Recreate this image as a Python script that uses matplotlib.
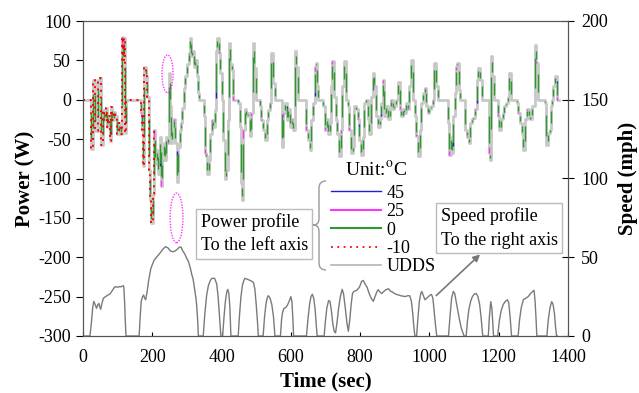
import numpy as np
import matplotlib.pyplot as plt
from matplotlib.lines import Line2D
from matplotlib.path import Path
from matplotlib.patches import PathPatch, Ellipse

plt.rcParams['font.family'] = ['Liberation Serif', 'DejaVu Serif']
plt.rcParams['mathtext.fontset'] = 'stix'
plt.rcParams['axes.unicode_minus'] = False

# power profile (W), step values: (time s, power W)
power_pts = [
    (0, 0), (22, -62), (30, 25), (36, -40), (42, 25), (48, 28), (53, -58), (57, -13), (61, -26),
    (65, -11), (69, -34), (73, -20), (77, -52), (81, -9), (85, -26), (89, -15), (93, -20), (98, -44),
    (104, -30), (109, -44), (113, 80), (116, 50), (118, 78), (120, -42), (123, 0),
    (166, -17), (169, -38), (173, -84), (177, 42), (182, 30), (186, 3), (190, -89), (194, -127),
    (197, -157), (201, -120), (205, -38), (209, -81), (213, -64), (217, -94), (221, -47), (225, -110),
    (229, -76), (233, -55), (237, -76), (241, -47), (245, -55), (249, 34), (252, -8), (255, -55),
    (258, -38), (262, -25), (266, -55), (270, -105), (275, -60), (279, -38), (283, -30), (287, -10),
    (291, 15), (295, 30), (300, 45), (305, 60), (308, 78), (312, 55), (316, 62), (320, 42), (324, 50),
    (328, 30), (332, 8), (336, 0),
    (349, -21), (352, -68), (355, -72), (359, -94), (363, -77), (367, -43), (372, -26), (376, -34),
    (381, -13), (385, 62), (388, 78), (392, 60), (396, 34), (400, 0), (405, -51), (409, -101),
    (414, -89), (418, -26), (421, 72), (425, 45), (429, 38), (433, 0), (448, -4), (452, -34),
    (455, -106), (459, -127), (463, -38), (467, -12), (471, -21), (476, -17), (481, -46), (486, -17),
    (490, 72), (495, 40), (500, 0), (511, -8), (515, -26), (520, -38), (525, -51), (530, -26),
    (535, -13), (540, -4), (544, 59), (549, 21), (553, 0), (573, -60), (578, -17), (583, -4),
    (588, -26), (593, -12), (598, -34), (602, -25), (607, -38), (611, 62), (616, 42), (621, 0),
    (645, -38), (650, -51), (654, -64), (659, -26), (664, -4), (669, 42), (672, 47), (675, 17), (678, 0),
    (694, -8), (698, -38), (703, -25), (707, -43), (712, -30), (716, 17), (720, 49), (725, 4),
    (730, -26), (734, -43), (739, -72), (744, -38), (749, 17), (754, 49), (758, 0), (764, -8),
    (768, -38), (773, -68), (778, -60), (783, -8), (788, -12), (793, -25), (798, -51), (803, -70),
    (807, -47), (812, -4), (817, 0), (822, -25), (827, -43), (832, 4), (836, 34), (841, 17),
    (846, -21), (851, -34), (856, -25), (860, -4), (865, 25), (870, -21), (875, -8), (880, -25),
    (885, -12), (889, 0), (894, -12), (899, -8), (904, 0), (909, 23), (914, -12), (918, -21),
    (923, -12), (928, -17), (933, -4), (937, -12), (942, 17), (947, 51), (952, 0), (957, -21),
    (962, -46), (967, -72), (972, -38), (976, -4), (981, 8), (986, 15), (991, -8), (996, -17),
    (1000, -12), (1005, -8), (1010, 0), (1014, 47), (1019, 17), (1024, 0),
    (1053, -30), (1057, -70), (1061, -47), (1065, -68), (1069, -21), (1073, 8), (1077, 42), (1081, 47),
    (1085, 13), (1089, 0), (1104, -38), (1109, -47), (1113, -55), (1117, -30), (1122, -25), (1127, -23),
    (1132, -12), (1137, 25), (1141, 40), (1147, 25), (1153, 0), (1172, -68), (1175, -76), (1179, 55),
    (1182, 30), (1186, 0), (1197, -21), (1202, -38), (1206, -25), (1211, -17), (1216, -8), (1221, -4),
    (1226, 4), (1231, 34), (1236, 0), (1252, -4), (1257, -17), (1262, -30), (1266, -43), (1271, -64),
    (1276, -25), (1281, -12), (1286, -21), (1291, -25), (1297, -8), (1304, 69), (1308, 47), (1312, 0),
    (1333, -4), (1337, -57), (1342, -42), (1347, -38), (1351, -8), (1355, 0), (1358, 17), (1362, 30),
    (1367, 0), (1375, 0),
]
power_t = [p[0] for p in power_pts]
power_w = [p[1] for p in power_pts]

# UDDS speed profile (mph)
speed_pts = [
    (0, 0), (20, 0), (24, 8), (28, 18), (31, 22), (35, 20), (39, 17.6), (43, 20), (46, 20.7), (49, 18),
    (51, 17), (55, 21), (59, 24), (65, 25), (72, 26), (78, 26.7), (85, 29), (92, 31.3), (100, 31),
    (105, 31.3), (111, 31.3), (116, 32), (118, 31), (120, 22), (122, 10), (124, 0),
    (162, 0), (165, 12), (168, 22), (172, 25), (175, 26), (178, 24), (181, 23), (185, 28), (190, 36),
    (196, 43), (205, 48), (212, 50), (220, 52), (230, 55), (238, 56.7), (245, 56), (252, 54),
    (260, 53.5), (266, 54), (272, 55), (278, 56.4), (283, 56.4), (288, 54), (294, 52), (300, 49),
    (304, 47.5), (310, 43), (314, 39), (318, 36), (322, 30), (326, 24), (328, 20), (331, 10), (333, 0),
    (347, 0), (352, 15), (357, 26), (362, 32), (367, 35), (372, 36.6), (380, 36.6), (386, 33),
    (390, 25), (394, 12), (398, 0),
    (403, 0), (407, 12), (411, 22), (415, 28), (418, 29.6), (421, 27), (424, 18), (427, 0),
    (448, 0), (452, 14), (456, 25), (460, 32), (464, 35), (467, 36.6), (475, 36), (485, 35),
    (492, 34), (496, 30), (500, 20), (504, 8), (506, 0),
    (520, 0), (524, 12), (528, 20), (532, 24.5), (535, 25.6), (540, 24), (545, 20), (550, 12), (554, 0),
    (570, 0), (573, 10), (576, 15), (580, 17.6), (585, 18), (590, 19.5), (595, 22), (600, 25),
    (603, 22), (606, 10), (608, 0),
    (645, 0), (650, 12), (654, 20), (658, 25), (662, 26.5), (666, 24), (670, 17), (673, 8), (676, 0),
    (696, 0), (700, 10), (704, 18), (709, 22.5), (713, 22), (717, 16), (721, 8), (725, 3), (729, 2),
    (733, 8), (738, 18), (743, 25), (748, 29.6), (752, 27), (757, 18), (762, 8), (766, 3),
    (770, 10), (774, 20), (778, 27), (782, 28.3), (790, 29), (798, 31), (804, 34.6), (809, 35.3),
    (814, 33), (820, 31), (826, 27), (832, 24), (838, 22), (843, 25), (848, 28), (852, 29.4),
    (857, 28), (862, 27), (867, 28), (872, 29), (877, 29.6), (882, 30), (887, 28.5), (893, 28),
    (899, 27), (905, 26.4), (912, 26), (918, 25.5), (924, 25.3), (930, 25), (936, 25.5), (943, 25.6),
    (948, 22), (952, 14), (955, 6), (958, 0),
    (963, 0), (967, 12), (971, 22), (975, 27), (978, 28.3), (982, 26), (987, 23), (992, 24),
    (997, 25), (1002, 26), (1006, 26.4), (1010, 24), (1014, 15), (1018, 6), (1021, 0),
    (1055, 0), (1060, 14), (1064, 24), (1069, 28.3), (1073, 27), (1077, 22), (1082, 16), (1087, 10),
    (1092, 5), (1097, 2), (1100, 0),
    (1106, 0), (1110, 10), (1114, 17), (1119, 22), (1124, 25), (1130, 26.7), (1135, 27), (1140, 25),
    (1145, 20), (1149, 12), (1152, 5), (1154, 0),
    (1170, 0), (1173, 12), (1177, 21.8), (1180, 18), (1183, 8), (1185, 0),
    (1197, 0), (1202, 10), (1207, 16), (1213, 20), (1219, 22), (1225, 23), (1229, 21), (1233, 12), (1237, 0),
    (1256, 0), (1260, 10), (1265, 18), (1271, 23), (1278, 24), (1285, 25), (1292, 27), (1298, 28.3),
    (1302, 29), (1305, 22), (1308, 10), (1310, 0),
    (1339, 0), (1343, 10), (1348, 18), (1353, 21.8), (1357, 20), (1361, 14), (1364, 6), (1367, 0), (1369, 0),
]
speed_t = [p[0] for p in speed_pts]
speed_v = [p[1] for p in speed_pts]

temps = ['45', '25', '0', '-10']
temp_colors = ['#2020d0', '#ff33ff', '#2e9a2e', 'red']

fig = plt.figure(figsize=(6.39, 3.93), dpi=100)
ax = fig.add_axes([83/639, 1-336/393, 485/639, 315/393])
ax2 = ax.twinx()

t = np.array(power_t, dtype=float)
p = np.array(power_w, dtype=float)

# grey power demand
ax.plot(t, p, drawstyle='steps-post', color='#c8c8c8', lw=2.0, zorder=2)

# measured traces mostly sit on top of the grey one; visible on the jumps
dp = p[1:] - p[:-1]
ax.vlines(t[1:], p[:-1] + 0.3*dp, p[:-1] + 0.8*dp, color=temp_colors[2], lw=1.0, zorder=3)
mag = np.arange(1, len(t)) % 5 == 0
ax.vlines(t[1:][mag], p[1:][mag] - 0.12*dp[mag], p[1:][mag], color=temp_colors[1], lw=1.0, zorder=3)
blu = np.arange(1, len(t)) % 13 == 0
ax.vlines(t[1:][blu], p[:-1][blu] + 0.2*dp[blu], p[:-1][blu] + 0.3*dp[blu], color=temp_colors[0], lw=1.0, zorder=3)

# -10 C run only recorded at the start
m = t <= 205
ax.plot(t[m], p[m], drawstyle='steps-post', color=temp_colors[3], lw=1.4,
        ls=(0, (1, 2.5)), zorder=4)

ax2.plot(speed_t, speed_v, color='#7a7a7a', lw=1.0)

ax.set_xlim(0, 1400)
ax.set_ylim(-300, 100)
ax2.set_ylim(0, 200)
ax.set_xticks(range(0, 1401, 200))
ax.set_yticks(range(-300, 101, 50))
ax2.set_yticks(range(0, 201, 50))

ax.tick_params(axis='y', direction='out', length=5, labelsize=13)
ax.tick_params(axis='x', direction='in', length=3, labelsize=13, pad=9)
ax2.tick_params(axis='y', direction='inout', length=9, labelsize=13, pad=5)
for a in (ax, ax2):
    for s in a.spines.values():
        s.set_color('#555555')

ax.set_xlabel('Time (sec)', fontsize=15, fontweight='bold', labelpad=4)
ax.set_ylabel('Power (W)', fontsize=15, fontweight='bold', labelpad=2)
ax2.set_ylabel('Speed (mph)', fontsize=15, fontweight='bold', labelpad=7)

# dotted ellipses
ax.add_patch(Ellipse((244, 33), 32, 48, fill=False, ec='#ff33ff', lw=1, ls=(0, (1, 1)), zorder=5))
ax.add_patch(Ellipse((270, -150), 37, 63, fill=False, ec='#ff33ff', lw=1, ls=(0, (1, 1)), zorder=5))

box = dict(boxstyle='square,pad=0.25', fc='white', ec='#bbbbbb', lw=1)
ax2.text(494, 64.8, 'Power profile\nTo the left axis', ha='center', va='center', ma='left',
         fontsize=13, linespacing=1.45, bbox=box, zorder=6)
ax2.text(1201, 68.5, 'Speed profile\nTo the right axis', ha='center', va='center', ma='left',
         fontsize=13, linespacing=1.5, bbox=box, zorder=6)
ax2.annotate('', xy=(1152, 53), xytext=(1014, 24.5),
             arrowprops=dict(arrowstyle='-|>', color='#777777', lw=1.2, mutation_scale=10), zorder=6)

# legend
handles = [Line2D([], [], color=temp_colors[0], lw=1),
           Line2D([], [], color=temp_colors[1], lw=1.5),
           Line2D([], [], color=temp_colors[2], lw=1.5),
           Line2D([], [], color=temp_colors[3], lw=1.3, ls=(0, (1, 2.5))),
           Line2D([], [], color='#b5b5b5', lw=1.2)]
leg = ax2.legend(handles, temps + ['UDDS'], frameon=False,
                 fontsize=13, handlelength=2.8, handletextpad=0.3,
                 labelspacing=0.08, borderpad=0.2,
                 loc='upper left', bbox_to_anchor=((318-83)/485, (336-172)/315))
leg.set_zorder(7)
ax2.text((376-83)/485, (336-170)/315, r'Unit:$^{\rm o}$C', transform=ax2.transAxes,
         ha='center', va='center', fontsize=14, zorder=7)

# curly brace
bx = [326, 319, 319, 319, 319, 313, 319, 319, 319, 319, 326]
by = [181, 181, 188, 219, 225, 225, 225, 231, 263, 270, 270]
verts = [(x/639, 1 - y/393) for x, y in zip(bx, by)]
codes = [Path.MOVETO, Path.CURVE3, Path.CURVE3, Path.LINETO, Path.CURVE3, Path.CURVE3,
         Path.CURVE3, Path.CURVE3, Path.LINETO, Path.CURVE3, Path.CURVE3]
fig.add_artist(PathPatch(Path(verts, codes), fc='none', ec='#9a9a9a', lw=1, transform=fig.transFigure))

fig.savefig('out.png', dpi=100)
